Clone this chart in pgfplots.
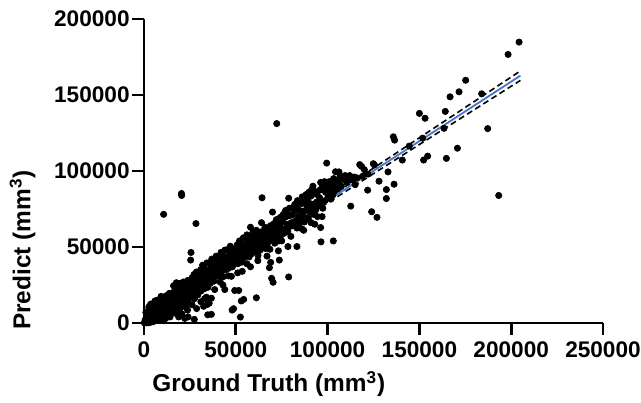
\documentclass[border=0pt]{standalone}
\usepackage{fontspec}
\setmainfont{Liberation Sans}
\usepackage{pgfplots}
\pgfplotsset{compat=1.18}
\definecolor{fitblue}{RGB}{72,118,200}
\begin{document}
\begin{tikzpicture}[font=\bfseries]
\begin{axis}[
  at={(0,0)}, anchor=south west,
  scale only axis, width=229.5pt, height=152pt,
  xmin=0, xmax=250000, ymin=0, ymax=200000,
  clip=false,
  axis lines*=left,
  axis line style={line width=1.35pt, black},
  tick style={line width=1.35pt, black},
  tick align=outside, major tick length=6pt,
  xtick={0,50000,100000,150000,200000,250000},
  ytick={0,50000,100000,150000,200000},
  minor tick num=0,
  scaled ticks=false,
  /pgf/number format/assume math mode=true,
  /pgf/number format/fixed,
  /pgf/number format/1000 sep={},
  tick label style={font=\fontsize{11.3}{13}\selectfont\bfseries},
  yticklabel style={inner xsep=1pt},
  xlabel={Ground Truth (mm\textsuperscript{3})},
  ylabel={Predict (mm\textsuperscript{3})},
  label style={font=\fontsize{12.2}{14}\selectfont\bfseries},
  xlabel style={at={([yshift=-30.5pt]rel axis cs:0.272,0)}, anchor=center},
  ylabel style={at={([xshift=-60.75pt]rel axis cs:0,0.24)}, anchor=center},
]
% 95% confidence band (dashed) and fit line
\addplot[black, dashed, line width=0.8pt, dash pattern=on 3pt off 1.8pt] coordinates {
(0,3585) (25000,22951) (50000,42472) (75000,62169) (100000,82000) (125000,101910) (150000,121863) (175000,141841) (205000,165833)};
\addplot[black, dashed, line width=0.8pt, dash pattern=on 3pt off 1.8pt] coordinates {
(0,815) (25000,20599) (50000,40228) (75000,59681) (100000,79000) (125000,98240) (150000,117437) (175000,136609) (205000,159597)};
\addplot[fitblue, line width=0.9pt] coordinates {(0,2200) (205000,162715)};
% data points
\addplot[only marks, mark=*, mark size=1.55pt, black] coordinates {
(500,300) (800,1200) (1200,500) (1500,2500) (1800,800) (2000,4000) (2200,1500) (2500,6000) (2800,3000) (3000,200) (3200,9000) (3500,12000) (3700,5000) (4000,2000) (4200,7500) (4500,11500) (4700,3500) (4900,800) (1000,7000) (2600,10500) (3800,12500) (600,2000) (1600,5500) (4300,9500) (200,100) (1400,100) (2400,300)
(5200,4000) (5500,12000) (5700,1500) (6000,7000) (6200,9500) (6500,3000) (6800,12500) (7000,5500) (7200,15000) (7500,8000) (7800,2500) (8000,11000) (8200,6500) (8500,13500) (8800,4000) (9000,9000) (9300,17500) (9500,12000) (9800,7000) (6000,14500) (7600,10500) (8900,15500) (5600,8500) (9600,2000)
(10200,5000) (10500,9000) (10800,13000) (11000,16000) (11300,7000) (11500,11000) (11800,3000) (12000,14000) (12300,18000) (12500,9500) (12800,12500) (13000,6000) (13300,16500) (13500,10500) (13800,19500) (14000,13500) (14200,4000) (14500,8000) (14800,15500) (10700,1500) (12200,7800) (13900,11000) (14600,17800) (11600,17500)
(15200,12000) (15500,17000) (15800,8000) (16000,14500) (16300,20500) (16500,10000) (16800,18500) (17000,6500) (17200,15500) (17500,22000) (17800,12500) (18000,19000) (18300,9000) (18500,16000) (18800,23500) (19000,13500) (19300,21000) (19500,7500) (19800,17500) (16100,24500) (18900,4000) (17600,26500) (19400,26000) (19000,8000)
(20200,15000) (20500,20000) (20800,11000) (21000,24000) (21300,17500) (21500,27000) (21800,13500) (22000,21500) (22300,18500) (22500,25000) (22800,10500) (23000,16000) (23300,23000) (23500,19500) (23800,28000) (24000,14000) (24300,21000) (24600,26000) (24900,17500) (20600,6000) (22200,3000) (23700,8500) (24000,4000)
(25200,20000) (25500,26000) (25800,17000) (26000,23000) (26300,30000) (26500,19000) (26800,27500) (27000,22000) (27300,32000) (27500,16000) (27800,25000) (28000,29500) (28300,20500) (28500,33500) (28800,23500) (29000,27000) (29300,18500) (29600,31000) (29900,25500) (26200,12000) (28700,9500) (27400,2400)
(30200,24000) (30500,30000) (30800,35000) (31000,21000) (31300,27500) (31600,33000) (31900,38000) (32200,25000) (32500,31500) (32800,22500) (33000,36000) (33300,28500) (33600,34000) (33900,26000) (34200,39500) (34500,31000) (34800,23500) (31000,14000) (32500,11000) (34500,12200) (34000,17000) (33000,16000)
(35200,28000) (35500,34000) (35800,39500) (36000,26000) (36300,31500) (36600,37000) (36900,42000) (37200,29500) (37500,35000) (37800,40500) (38100,27500) (38400,33000) (38700,38000) (39000,30500) (39300,44000) (39600,35500) (39900,41000) (34700,5400) (36700,5700) (36700,16300) (35500,13000) (38500,22000)
(40200,33000) (40500,38500) (40800,44000) (41100,31000) (41400,36500) (41700,41500) (42000,46500) (42300,34000) (42600,39500) (42900,44500) (43200,30500) (43500,37000) (43800,42500) (44100,48000) (44400,35000) (44700,40500) (41500,27000) (43000,25000) (44000,22000)
(45200,38000) (45500,43500) (45800,48500) (46100,36000) (46400,41000) (46700,46000) (47000,50500) (47300,39000) (47600,44000) (47600,30700) (47900,48000) (48200,37000) (48500,42000) (48800,46500) (49100,40000) (49400,44500) (49700,49000) (46000,31000) (48800,9400) (49400,21400) (51600,21400) (48000,8500)
(50200,41000) (50500,46000) (50800,51500) (51100,39000) (51400,44500) (51700,49000) (52000,54000) (52300,42000) (52600,47500) (52900,52000) (53200,40000) (53500,45500) (53800,50500) (54100,56000) (54400,43000) (54700,48500) (52500,3900) (54300,15500) (53000,14500) (51000,33000) (53500,34000)
(55200,44000) (55500,49500) (55800,54500) (56100,58000) (56400,46000) (56700,51500) (57000,56000) (57300,43500) (57600,48500) (57900,53000) (58200,57500) (58500,45500) (58800,50500) (59100,55000) (59400,60000) (59700,47000) (56000,39000) (58000,37000) (58000,63000)
(60300,47500) (60600,53000) (60900,57500) (61200,61000) (61500,50000) (61800,55000) (62100,44500) (62400,59000) (62700,52000) (63000,57000) (63300,48000) (63600,54000) (63900,60000) (64200,50500) (64500,56500) (61200,16600) (62000,41000) (64300,82400) (64000,66000)
(65300,53000) (65600,58500) (65900,63000) (66200,49000) (66500,55500) (66800,60500) (67100,51500) (67400,57500) (67700,62500) (68000,54000) (68300,59500) (68600,48500) (68900,64000) (69200,56000) (69500,61000) (68300,36400) (69000,39900) (69500,29400) (70300,26800) (67000,44000)
(70300,55000) (70600,60500) (70900,65500) (71200,52500) (71500,58000) (71800,63000) (72100,68000) (72400,56000) (72700,61500) (73000,66500) (73300,54000) (73600,59500) (73900,64000) (74200,69500) (74500,57500) (72300,131200) (73200,47500) (73700,41400) (70000,73000) (75000,54000)
(75300,61000) (75600,66500) (75900,71500) (76200,59000) (76800,69500) (77100,74000) (77400,62500) (78000,72500) (78300,60000) (78600,65000) (78900,70500) (79200,75500) (79500,63500) (78800,82100) (78400,50300) (78800,30300)
(80300,66000) (80600,71000) (80900,75500) (81200,64000) (81800,73500) (82100,78000) (82400,67000) (83000,76500) (83300,62500) (83600,80500) (83900,70000) (84200,74500) (84500,65500) (83300,50300) (84800,79000) (80000,57000)
(85300,68000) (85600,73500) (85900,78500) (86200,83000) (86500,70500) (87100,81000) (87400,66500) (87700,74000) (88000,79000) (88300,84500) (88900,77000) (89200,82000) (89500,69000) (89800,86000) (87000,61000) (86000,62000)
(90300,73000) (90600,78500) (90900,83500) (91200,87500) (91500,75500) (92100,85000) (92400,71500) (92700,77500) (93300,86500) (93600,74500) (93900,79500) (94200,84500) (94500,70000) (91000,66000) (93000,65000) (92000,90000)
(95300,77000) (95600,82500) (95900,87500) (96200,92500) (96500,79500) (97100,89500) (97400,75500) (98000,88000) (98300,93000) (98600,80500) (98900,86000) (99500,105200) (96200,62800) (96400,53400) (99200,91000) (97000,70000)
(100300,83000) (100600,88500) (100900,93000) (101200,85500) (101500,90500) (101800,81500) (102100,87000) (102400,92500) (102700,84000) (103000,89500) (103300,95000) (103600,86500) (104000,91500) (104300,99500) (104600,93500) (103100,54000) (106200,99400)
(105200,88000) (106000,92000) (106800,96500) (107500,90000) (108500,94500) (109500,97000) (110500,92500) (111500,96500) (112000,97000) (112600,76900) (113500,94000) (114500,96000) (116000,95500) (117500,104200) (118500,103000) (120000,100900) (119000,96500) (121800,87400) (124000,73200) (124900,104800) (125500,104000) (126900,69500) (128000,93300) (122000,98000) (115000,91000)
(20500,83900) (20400,85200) (10700,71500) (28300,65400) (25600,46400) (25400,41400)
(204300,184800) (198300,176700) (175200,159700) (171600,152100) (166700,148800) (183900,150800) (164100,139200) (150000,137900) (153100,134700) (151800,121600) (163400,128100) (187200,127900) (170700,115000) (154500,109800) (152300,107200) (164700,108300) (144500,116400) (135800,122500) (136500,120300) (140700,107200) (132900,99400) (136200,91300) (132000,87800) (132000,81900) (193200,83900)
};
\end{axis}
\pgfresetboundingbox
\path (-72pt,-39.5pt) rectangle (248.5pt,161.5pt);
\end{tikzpicture}
\end{document}
